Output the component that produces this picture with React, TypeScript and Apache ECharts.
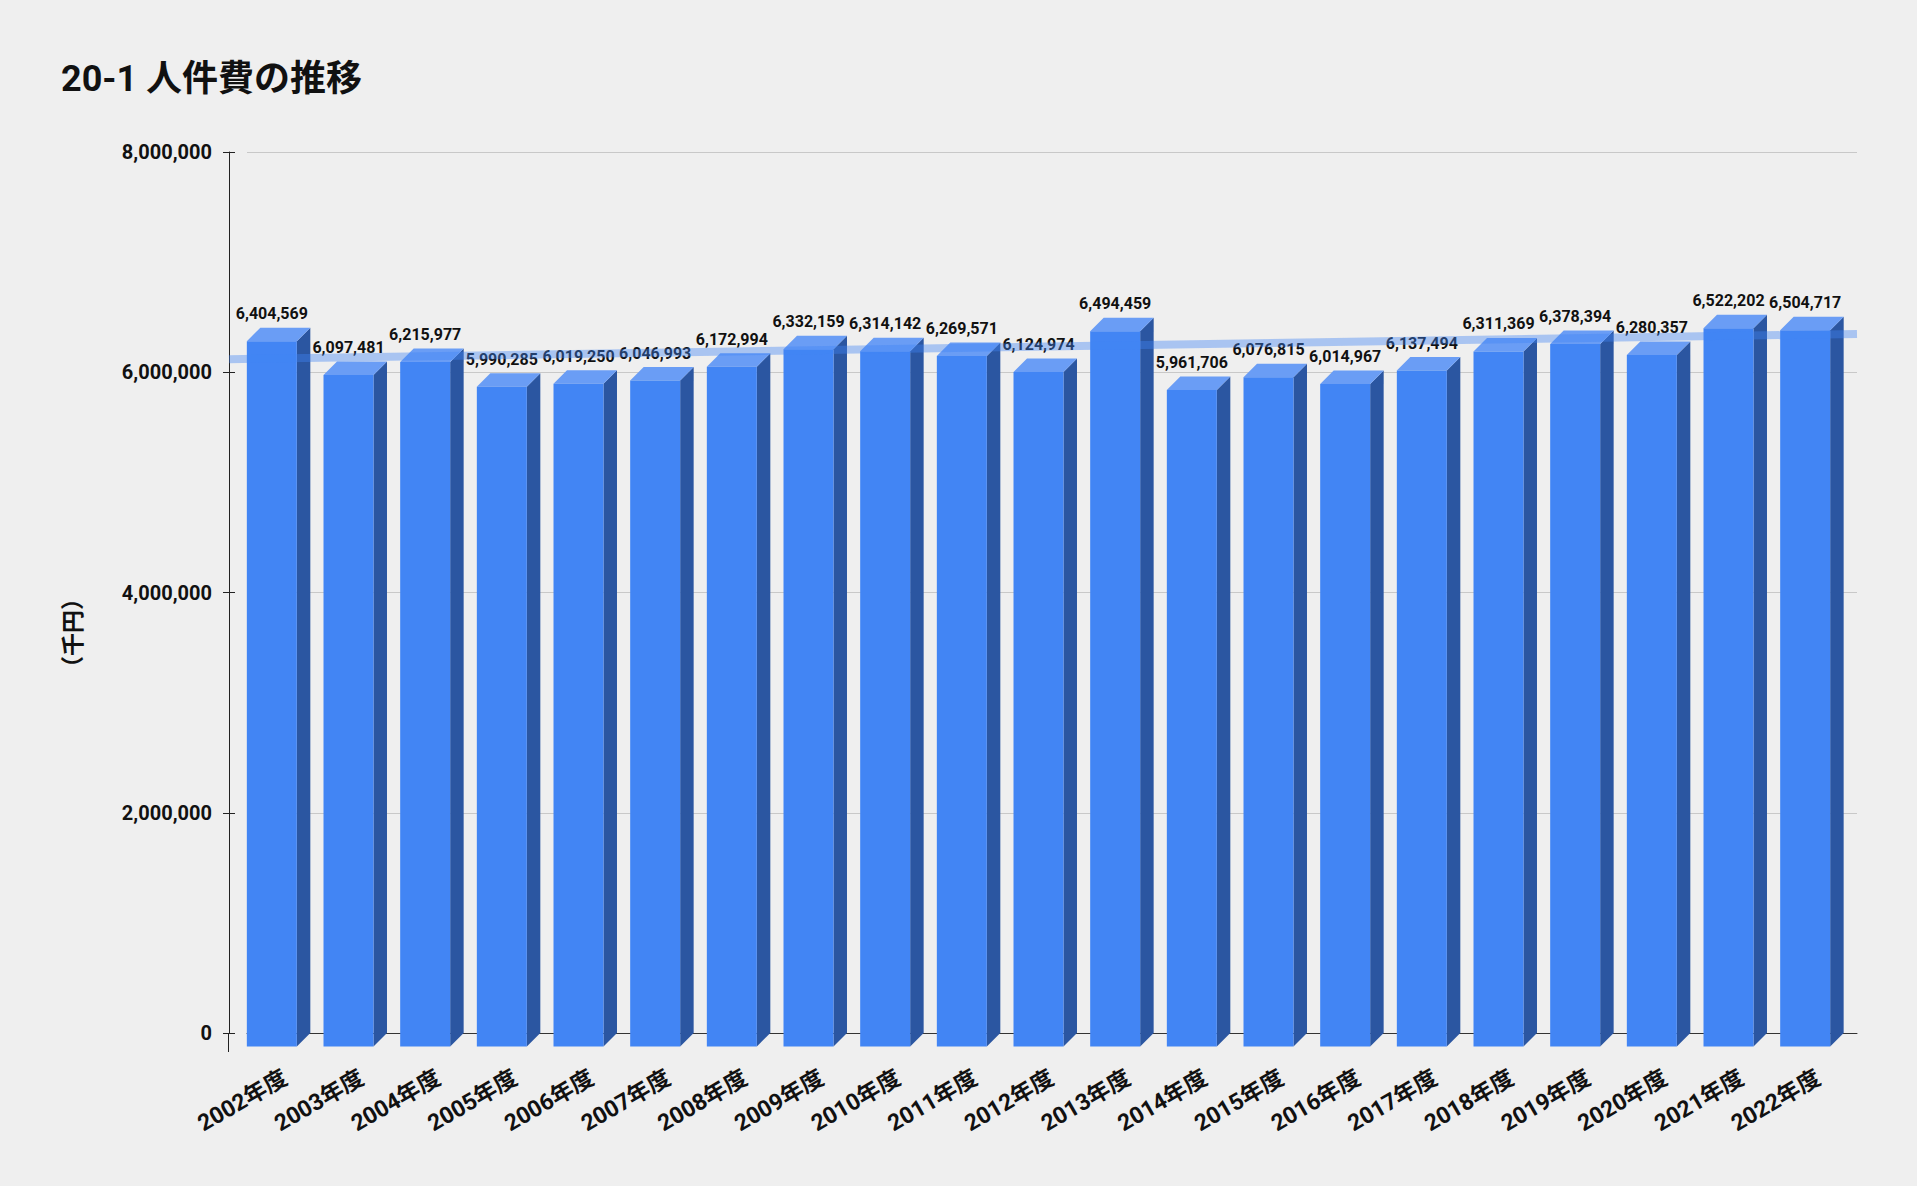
import { useEffect, useRef } from 'react';
import * as echarts from 'echarts';

// Fiscal years and personnel cost values (thousand yen)
const categories = [
  '2002年度', '2003年度', '2004年度', '2005年度', '2006年度', '2007年度', '2008年度',
  '2009年度', '2010年度', '2011年度', '2012年度', '2013年度', '2014年度', '2015年度',
  '2016年度', '2017年度', '2018年度', '2019年度', '2020年度', '2021年度', '2022年度',
];
const costValues = [
  6404569, 6097481, 6215977, 5990285, 6019250, 6046993, 6172994,
  6332159, 6314142, 6269571, 6124974, 6494459, 5961706, 6076815,
  6014967, 6137494, 6311369, 6378394, 6280357, 6522202, 6504717,
];
// Trend line end points (x: 0 = axis line, 1 = right edge)
const trendX = [0, 1];
const trendY = [6118000, 6348000];
const yTicks = [0, 2000000, 4000000, 6000000, 8000000];

const FONT = "Roboto, 'Noto Sans CJK JP', sans-serif";
const TEXT = '#111111';

export default function App() {
  const chartRef = useRef<HTMLDivElement>(null);

  useEffect(() => {
    document.body.style.margin = '0';
    if (!chartRef.current) return;
    const chart = echarts.init(chartRef.current, null, { renderer: 'svg' });

    const fmt = (v: number) => v.toLocaleString('en-US');
    const depth = 13.5;
    const yMin = yTicks[0];
    const yMax = yTicks[yTicks.length - 1];
    const yStep = yTicks[1] - yTicks[0];

    const option: any = {
      animation: false,
      backgroundColor: '#efefef',
      textStyle: { fontFamily: FONT },
      title: {
        text: '20-1 人件費の推移',
        left: 56,
        top: 56,
        textStyle: { fontSize: 36, fontWeight: 'bold', color: TEXT, fontFamily: FONT },
      },
      grid: [
        { left: 247, right: 60, top: 152, bottom: 153 },
        { left: 229, right: 60, top: 152, bottom: 153 },
      ],
      xAxis: [
        {
          type: 'category',
          gridIndex: 0,
          data: categories,
          axisLine: { show: true, onZero: false, lineStyle: { color: '#333333', width: 1 } },
          axisTick: { show: false },
          axisLabel: {
            interval: 0,
            rotate: 30,
            margin: 43,
            fontSize: 23,
            fontWeight: 'bold',
            color: TEXT,
            fontFamily: FONT,
          },
        },
        { type: 'value', gridIndex: 1, min: 0, max: 1, show: false },
      ],
      yAxis: [
        {
          type: 'value',
          gridIndex: 0,
          position: 'left',
          offset: 18,
          min: yMin,
          max: yMax,
          interval: yStep,
          axisLine: { show: true, onZero: false, lineStyle: { color: '#222222' } },
          axisTick: { show: true, length: 6, lineStyle: { color: '#222222' } },
          axisLabel: {
            margin: 17,
            fontSize: 20,
            fontWeight: 'bold',
            color: TEXT,
            fontFamily: FONT,
            formatter: (v: number) => fmt(v),
          },
          splitLine: { show: true, lineStyle: { color: '#c8c8c8' } },
        },
        {
          type: 'value',
          gridIndex: 0,
          position: 'left',
          offset: 18,
          min: yMin,
          max: yMax,
          interval: yStep,
          axisLine: { show: false, onZero: false },
          axisTick: { show: true, inside: true, length: 6, lineStyle: { color: '#222222' } },
          axisLabel: { show: false },
          splitLine: { show: false },
        },
        { type: 'value', gridIndex: 1, min: yMin, max: yMax, show: false },
      ],
      graphic: [
        {
          type: 'text',
          x: 73,
          y: 633,
          rotation: Math.PI / 2,
          style: {
            text: '（千円）',
            font: `bold 23px ${FONT}`,
            fill: TEXT,
            textAlign: 'center',
            textVerticalAlign: 'middle',
          },
        },
        {
          type: 'line',
          shape: { x1: 228.5, y1: 1033, x2: 228.5, y2: 1052 },
          style: { stroke: '#222222', lineWidth: 1 },
        },
      ],
      series: [
        {
          type: 'custom',
          xAxisIndex: 0,
          yAxisIndex: 0,
          data: costValues.map((v, i) => [i, v]),
          encode: { x: 0, y: 1 },
          z: 2,
          renderItem: (params: any, api: any) => {
            const idx = api.value(0);
            const val = api.value(1);
            const top = api.coord([idx, val]);
            const base = api.coord([idx, 0]);
            const band = api.size([1, 0])[0];
            const w = band * 0.652;
            const bl = top[0] - w / 2; // back face left
            const br = bl + w;
            const fl = bl - depth;
            const fr = br - depth;
            const ft = top[1] + depth;
            const fb = base[1] + depth;
            return {
              type: 'group',
              children: [
                {
                  type: 'polygon',
                  shape: { points: [[fr, ft], [br, top[1]], [br, base[1]], [fr, fb]] },
                  style: { fill: '#2b56a1' },
                },
                {
                  type: 'polygon',
                  shape: { points: [[fl, ft], [bl, top[1]], [br, top[1]], [fr, ft]] },
                  style: { fill: '#6a9df5' },
                },
                {
                  type: 'rect',
                  shape: { x: fl, y: ft, width: w, height: fb - ft },
                  style: { fill: '#4285f4' },
                },
                {
                  type: 'text',
                  x: (fl + fr) / 2,
                  y: top[1] - 6,
                  style: {
                    text: fmt(val),
                    font: `bold 16px ${FONT}`,
                    fill: TEXT,
                    textAlign: 'center',
                    textVerticalAlign: 'bottom',
                  },
                },
              ],
            };
          },
        },
        {
          type: 'line',
          xAxisIndex: 1,
          yAxisIndex: 2,
          data: trendX.map((x, i) => [x, trendY[i]]),
          showSymbol: false,
          symbol: 'none',
          silent: true,
          z: 3,
          lineStyle: { color: '#4285f4', width: 8, opacity: 0.4 },
        },
      ],
    };

    chart.setOption(option);

    return () => {
      chart.dispose();
    };
  }, []);

  return <div ref={chartRef} style={{ width: '1917px', height: '1186px' }} />;
}
